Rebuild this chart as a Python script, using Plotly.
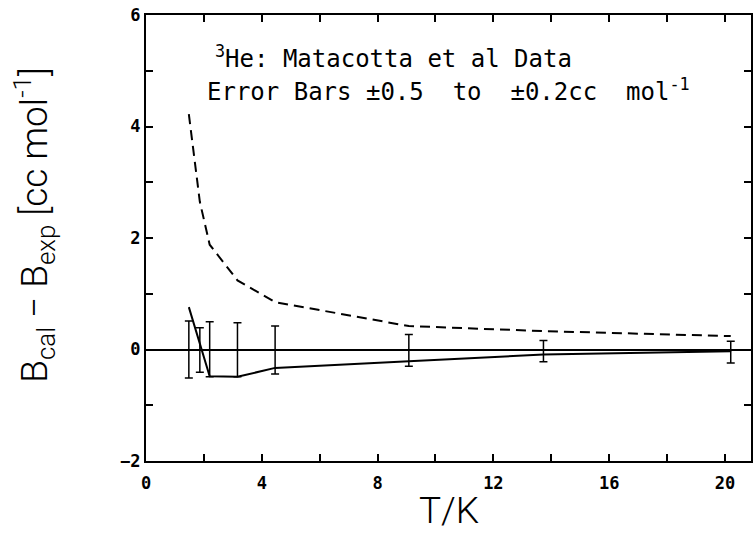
import plotly.graph_objects as go

# Data
T = [1.48, 1.86, 2.2, 3.16, 4.46, 9.08, 13.73, 20.2]
calc_minus_exp = [0.76, 0.12, -0.48, -0.49, -0.33, -0.21, -0.09, -0.03]
dashed_curve = [4.22, 2.65, 1.88, 1.24, 0.85, 0.42, 0.33, 0.24]
err_center = [0, 0, 0, 0, 0, -0.02, -0.02, -0.03]
err_plus = [0.51, 0.39, 0.5, 0.48, 0.42, 0.29, 0.18, 0.18]
err_minus = [0.51, 0.41, 0.49, 0.49, 0.44, 0.28, 0.2, 0.21]

x_tickvals = list(range(0, 21, 2))
x_ticktext = [str(v) if v % 4 == 0 else "" for v in x_tickvals]
y_tickvals = list(range(-2, 7))
y_ticktext = [("−" + str(-v) if v < 0 else str(v)) if v % 2 == 0 else "" for v in y_tickvals]

fig = go.Figure()

fig.add_trace(go.Scatter(
    x=T, y=err_center, mode="markers",
    marker=dict(size=1, color="black"),
    error_y=dict(type="data", symmetric=False, array=err_plus, arrayminus=err_minus,
                 color="black", thickness=1.5, width=4),
    showlegend=False, hoverinfo="skip"))

fig.add_trace(go.Scatter(
    x=T, y=calc_minus_exp, mode="lines",
    line=dict(color="black", width=2), showlegend=False))

fig.add_trace(go.Scatter(
    x=T, y=dashed_curve, mode="lines",
    line=dict(color="black", width=2, dash="10px,6px"), showlegend=False))

tick_font = dict(family="DejaVu Sans Mono", size=17, color="black", weight="bold")

fig.update_xaxes(
    range=[0, 20.9], tickvals=x_tickvals, ticktext=x_ticktext,
    ticks="inside", ticklen=7, tickwidth=1.5, tickcolor="black",
    showline=True, linecolor="black", linewidth=2, mirror="allticks",
    showgrid=False, zeroline=False, tickfont=tick_font, ticklabelstandoff=6)

fig.update_yaxes(
    range=[-2, 6], tickvals=y_tickvals, ticktext=y_ticktext,
    ticks="inside", ticklen=7, tickwidth=1.5, tickcolor="black",
    showline=True, linecolor="black", linewidth=2, mirror="allticks",
    showgrid=False, zeroline=True, zerolinecolor="black", zerolinewidth=2,
    tickfont=tick_font)

ann_font = dict(family="DejaVu Sans Mono", size=24, color="black")
fig.add_annotation(x=2.3, y=5.25, xref="x", yref="y", xanchor="left", yanchor="middle",
                   text="<sup>3</sup>He: Matacotta et al Data", showarrow=False, font=ann_font)
fig.add_annotation(x=2.03, y=4.66, xref="x", yref="y", xanchor="left", yanchor="middle",
                   text="Error Bars ±0.5  to  ±0.2cc  mol<sup>-1</sup>", showarrow=False, font=ann_font)

fig.add_annotation(x=-0.185, y=0.53, xref="paper", yref="paper", xanchor="center", yanchor="middle",
                   textangle=-90, showarrow=False,
                   text="B<sub>cal</sub> − B<sub>exp</sub> [cc mol<sup>-1</sup>]",
                   font=dict(family="Roboto", size=37, color="black", weight=300))
fig.add_annotation(x=0.5, y=-0.112, xref="paper", yref="paper", xanchor="center", yanchor="middle",
                   showarrow=False, text="T/K",
                   font=dict(family="Roboto", size=37, color="black", weight=300))

fig.update_layout(
    width=753, height=543,
    margin=dict(l=146, r=0, t=15, b=82),
    plot_bgcolor="white", paper_bgcolor="white")

fig.write_html("out.html")
